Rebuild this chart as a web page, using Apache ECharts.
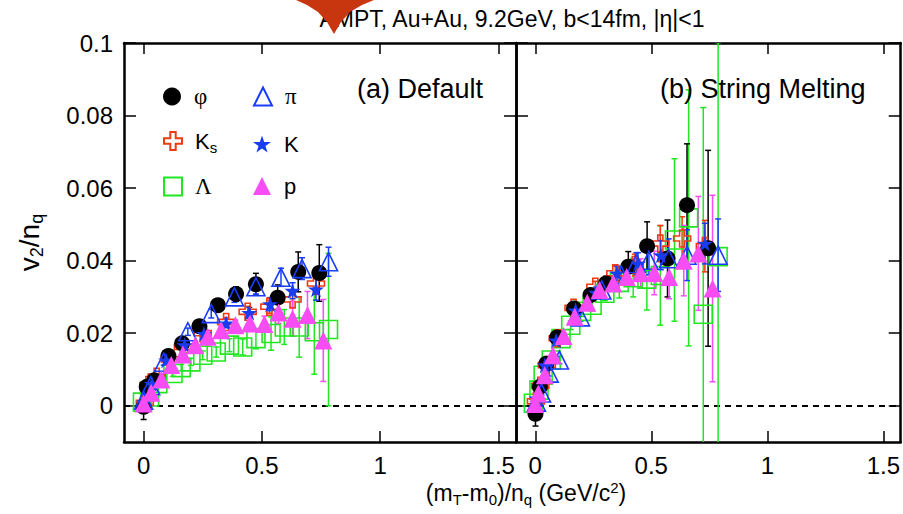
<!DOCTYPE html>
<html><head><meta charset="utf-8">
<script src="https://cdn.jsdelivr.net/npm/echarts@6/dist/echarts.min.js"></script>
<style>html,body{margin:0;padding:0;background:#fff}#c{width:903px;height:514px}</style>
</head><body><div id="c"></div>
<script>
// ---------- tick labels / ranges ----------
const xTicks = [0, 0.5, 1, 1.5];
const yTicks = [0, 0.02, 0.04, 0.06, 0.08, 0.1];
const xRange = [-0.083, 1.575];
const yRange = [-0.01, 0.1];
const panelLabels = ['(a) Default', '(b) String Melting'];
const titleText = 'AMPT, Au+Au, 9.2GeV, b<14fm, |η|<1';

// ---------- data: [ (mT-m0)/nq , v2/nq , error ] ----------
// (a) Default
const phiDefault = [
 [0.000,-0.0003,0.0035],[0.013,0.0052,0.0008],[0.045,0.0070,0.0008],[0.105,0.0137,0.0010],
 [0.163,0.0172,0.0010],[0.236,0.0219,0.0012],[0.314,0.0277,0.0015],[0.391,0.0308,0.0020],
 [0.475,0.0335,0.0030],[0.567,0.0298,0.0035],[0.654,0.0369,0.0055],[0.743,0.0366,0.0078]
];
const piDefault = [
 [0.000,0.0015,0.0005],[0.030,0.0055,0.0006],[0.085,0.0120,0.0008],[0.187,0.0204,0.0010],
 [0.286,0.0254,0.0012],[0.384,0.0300,0.0015],[0.475,0.0328,0.0020],[0.581,0.0354,0.0025],
 [0.670,0.0378,0.0030],[0.782,0.0397,0.0040]
];
const ksDefault = [
 [0.005,0.0008,0.0006],[0.020,0.0057,0.0006],[0.055,0.0080,0.0007],[0.110,0.0128,0.0008],
 [0.166,0.0162,0.0010],[0.250,0.0200,0.0010],[0.349,0.0231,0.0012],[0.440,0.0259,0.0015],
 [0.532,0.0273,0.0018],[0.630,0.0293,0.0022],[0.729,0.0337,0.0030]
];
const kDefault = [
 [0.003,0.0010,0.0005],[0.035,0.0060,0.0006],[0.095,0.0125,0.0008],[0.173,0.0167,0.0010],
 [0.255,0.0198,0.0010],[0.349,0.0227,0.0012],[0.447,0.0256,0.0015],[0.535,0.0280,0.0018],
 [0.630,0.0317,0.0022],[0.729,0.0321,0.0030]
];
const pDefault = [
 [0.000,0.0006,0.0005],[0.032,0.0036,0.0005],[0.075,0.0072,0.0006],[0.117,0.0112,0.0007],
 [0.166,0.0141,0.0008],[0.219,0.0167,0.0009],[0.271,0.0190,0.0010],[0.328,0.0208,0.0012],
 [0.388,0.0222,0.0014],[0.450,0.0227,0.0018],[0.511,0.0225,0.0022],[0.571,0.0257,0.0030],
 [0.630,0.0240,0.0048],[0.693,0.0250,0.0065],[0.760,0.0180,0.0113]
];
const lambdaDefault = [
 [-0.005,0.0010,0.0006],[0.025,0.0024,0.0006],[0.060,0.0061,0.0007],[0.124,0.0089,0.0008],
 [0.159,0.0105,0.0009],[0.200,0.0121,0.0010],[0.250,0.0139,0.0012],[0.307,0.0148,0.0014],
 [0.363,0.0167,0.0018],[0.419,0.0162,0.0022],[0.475,0.0185,0.0028],[0.539,0.0199,0.0046],
 [0.595,0.0217,0.0048],[0.658,0.0217,0.0083],[0.722,0.0204,0.0117],[0.782,0.0210,0.0210]
];
// (b) String Melting
const phiSM = [
 [0.001,-0.0022,0.0034],[0.020,0.0052,0.0010],[0.048,0.0116,0.0010],[0.094,0.0188,0.0010],
 [0.167,0.0268,0.0012],[0.238,0.0305,0.0015],[0.305,0.0337,0.0020],[0.401,0.0383,0.0042],
 [0.482,0.0440,0.0067],[0.570,0.0406,0.0106],[0.654,0.0553,0.0169],[0.745,0.0434,0.0270]
];
const piSM = [
 [0.005,0.0010,0.0005],[0.027,0.0035,0.0006],[0.060,0.0090,0.0008],[0.104,0.0126,0.0010],
 [0.195,0.0245,0.0012],[0.287,0.0319,0.0015],[0.370,0.0360,0.0020],[0.436,0.0392,0.0030],
 [0.490,0.0401,0.0040],[0.575,0.0405,0.0055],[0.654,0.0415,0.0070],[0.788,0.0415,0.0100]
];
const ksSM = [
 [0.003,0.0012,0.0006],[0.022,0.0055,0.0007],[0.050,0.0112,0.0008],[0.097,0.0186,0.0010],
 [0.165,0.0270,0.0012],[0.259,0.0328,0.0015],[0.345,0.0365,0.0020],[0.429,0.0388,0.0030],
 [0.539,0.0447,0.0050],[0.633,0.0461,0.0060],[0.731,0.0440,0.0071]
];
const kSM = [
 [0.005,0.0020,0.0006],[0.041,0.0112,0.0008],[0.090,0.0180,0.0010],[0.174,0.0263,0.0012],
 [0.262,0.0312,0.0015],[0.352,0.0365,0.0020],[0.443,0.0392,0.0030],[0.541,0.0415,0.0040],
 [0.731,0.0447,0.0056]
];
const pSM = [
 [0.000,0.0005,0.0005],[0.013,0.0034,0.0006],[0.041,0.0084,0.0007],[0.076,0.0139,0.0008],
 [0.122,0.0192,0.0009],[0.170,0.0245,0.0010],[0.224,0.0284,0.0012],[0.277,0.0319,0.0014],
 [0.336,0.0337,0.0018],[0.394,0.0355,0.0025],[0.454,0.0365,0.0040],[0.513,0.0366,0.0060],
 [0.577,0.0355,0.0060],[0.640,0.0400,0.0097],[0.703,0.0420,0.0157],[0.764,0.0323,0.0257]
];
const lambdaSM = [
 [-0.008,0.0007,0.0006],[0.016,0.0043,0.0007],[0.034,0.0084,0.0008],[0.069,0.0126,0.0009],
 [0.111,0.0185,0.0010],[0.153,0.0222,0.0012],[0.200,0.0260,0.0014],[0.245,0.0277,0.0016],
 [0.300,0.0310,0.0020],[0.362,0.0340,0.0043],[0.422,0.0353,0.0053],[0.481,0.0349,0.0085],
 [0.539,0.0359,0.0137],[0.600,0.0457,0.0224],[0.661,0.0518,0.0353],[0.724,0.0252,0.0570],
 [0.788,0.0411,0.0590]
];

// ---------- styles ----------
const crossPath = 'path://M7,0 H13 V7 H20 V13 H13 V20 H7 V13 H0 V7 H7 Z';
const starPath = 'path://M50,2 L61.8,37.6 L99,37.6 L68.9,59.5 L80.4,95 L50,73 L19.6,95 L31.1,59.5 L1,37.6 L38.2,37.6 Z';
const species = [
  {name:'Λ',  key:'lambda', symbol:'rect',     size:18, open:true,  color:'#22e622'},
  {name:'Ks', key:'ks',     symbol:crossPath,  size:17, open:true,  color:'#f03a14'},
  {name:'φ',  key:'phi',    symbol:'circle',   size:16, open:false, color:'#000000'},
  {name:'π',  key:'pi',     symbol:'triangle', size:18, open:true,  color:'#1a3cff'},
  {name:'K',  key:'k',      symbol:starPath,   size:16, open:false, color:'#1a3cf0'},
  {name:'p',  key:'p',      symbol:'triangle', size:18, open:false, color:'#f84cf4'}
];
const panels = [
  {lambda:lambdaDefault, ks:ksDefault, phi:phiDefault, pi:piDefault, k:kDefault, p:pDefault},
  {lambda:lambdaSM, ks:ksSM, phi:phiSM, pi:piSM, k:kSM, p:pSM}
];

function errRender(color){
  return function(params, api){
    const x = api.value(0), y = api.value(1), e = api.value(2);
    const t = api.coord([x, y + e]), b = api.coord([x, y - e]);
    const c = 3, st = {stroke: color, lineWidth: 1.5};
    return {type:'group', children:[
      {type:'line', shape:{x1:t[0],y1:t[1],x2:b[0],y2:b[1]}, style:st},
      {type:'line', shape:{x1:t[0]-c,y1:t[1],x2:t[0]+c,y2:t[1]}, style:st},
      {type:'line', shape:{x1:b[0]-c,y1:b[1],x2:b[0]+c,y2:b[1]}, style:st}
    ]};
  };
}

const grids = [
  {left:124, top:43, width:392, height:399},
  {left:516, top:43, width:392, height:399}
];
const xAxes = [], yAxes = [], series = [];
const lineStyle = {color:'#000', width:2.5};
const tickStyle = {color:'#000', width:1.5};
grids.forEach((g, gi) => {
  ['bottom','top'].forEach(pos => xAxes.push({
    gridIndex:gi, type:'value', position:pos, min:xRange[0], max:xRange[1],
    axisLine:{show:true, onZero:false, lineStyle},
    axisTick:{show:true, inside:true, length:11, lineStyle:tickStyle, customValues:xTicks},
    axisLabel:{show:pos==='bottom', customValues:xTicks, fontSize:24, color:'#000',
               fontFamily:'Liberation Sans', margin:11},
    splitLine:{show:false}
  }));
  ['left','right'].forEach(pos => yAxes.push({
    gridIndex:gi, type:'value', position:pos, min:yRange[0], max:yRange[1],
    axisLine:{show:true, onZero:false, lineStyle},
    axisTick:{show:true, inside:true, length:12, lineStyle:tickStyle, customValues:yTicks},
    axisLabel:{show:(gi===0 && pos==='left'), customValues:yTicks, fontSize:24, color:'#000',
               fontFamily:'Liberation Sans', margin:11},
    splitLine:{show:false},
    name:(gi===0 && pos==='left') ? '{i|v}{s|2}{i|/n}{s|q}' : '',
    nameLocation:'middle', nameGap:78,
    nameTextStyle:{color:'#000', fontFamily:'Liberation Sans',
      rich:{i:{fontSize:28, fontFamily:'Liberation Sans', color:'#000'},
            s:{fontSize:18, fontFamily:'Liberation Sans', color:'#000', padding:[15,0,0,0]}}}
  }));
  species.forEach((sp, si) => {
    const d = panels[gi][sp.key];
    series.push({
      type:'custom', name:sp.name + ' error', xAxisIndex:gi*2, yAxisIndex:gi*2,
      clip:true, silent:true, z:2, data:d, encode:{x:0, y:1}, renderItem:errRender(sp.color)
    });
  });
  species.forEach((sp, si) => {
    const d = panels[gi][sp.key];
    const s = {
      type:'scatter', name:sp.name, xAxisIndex:gi*2, yAxisIndex:gi*2, clip:true,
      z:3 + si, symbol:sp.symbol, symbolSize:sp.size, silent:true,
      data:d.map(v => [v[0], v[1]]),
      itemStyle: sp.open ? {color:'rgba(255,255,255,0)', borderColor:sp.color, borderWidth:1.6, opacity:1}
                         : {color:sp.color, borderWidth:0, opacity:1}
    };
    if (si === 0) {
      s.markLine = {silent:true, symbol:'none', label:{show:false}, z:1,
        lineStyle:{color:'#000', width:2, type:[6,5]}, data:[{yAxis:0}], animation:false};
    }
    series.push(s);
  });
});

const legendText = {
  'φ':'{g|φ}', 'π':'{g|π}', 'Λ':'{g|Λ}',
  'Ks':'{n|K}{s|s}', 'K':'{n|K}', 'p':'{n|p}'
};
const legendPos = {
  'φ':[163,85], 'π':[253,85], 'Ks':[163,130], 'K':[253,133], 'Λ':[163,175], 'p':[253,175]
};
const legends = Object.keys(legendPos).map(n => ({
  data:[n], left:legendPos[n][0], top:legendPos[n][1], padding:0,
  itemWidth:18, itemHeight:18, selectedMode:false, orient:'horizontal',
  formatter: name => legendText[name],
  textStyle:{color:'#000', rich:{
    g:{fontFamily:'Liberation Serif', fontSize:23, color:'#000', padding:[0,0,0,8]},
    n:{fontFamily:'Liberation Sans', fontSize:22, color:'#000', padding:[0,0,0,8]},
    s:{fontFamily:'Liberation Sans', fontSize:15, color:'#000', padding:[12,0,0,0]}
  }}
}));

const option = {
  animation:false,
  backgroundColor:'#fff',
  grid:grids, xAxis:xAxes, yAxis:yAxes, series, legend:legends,
  graphic:[
    {type:'text', x:512, y:19, z:90, silent:true,
     style:{text:titleText, align:'center', verticalAlign:'middle',
            fontFamily:'Liberation Sans', fontSize:23, fill:'#000'}},
    {type:'polygon', z:100, silent:true,
     shape:{points:[[296,0],[374,0],[362,5],[350,12],[341,22],[334,34],[327,22],[318,12],[307,5]]},
     style:{fill:'#c8360f'}},
    {type:'text', x:357, y:89, z:90, silent:true,
     style:{text:panelLabels[0], align:'left', verticalAlign:'middle',
            fontFamily:'Liberation Sans', fontSize:27, fill:'#000'}},
    {type:'text', x:660, y:89, z:90, silent:true,
     style:{text:panelLabels[1], align:'left', verticalAlign:'middle',
            fontFamily:'Liberation Sans', fontSize:27, fill:'#000'}},
    {type:'text', x:526, y:493, z:90, silent:true,
     style:{text:'(m{s|T}-m{s|0})/n{s|q} (GeV/c{u|2})', align:'center', verticalAlign:'middle',
            fontFamily:'Liberation Sans', fontSize:23, fill:'#000',
            rich:{s:{fontSize:15, fill:'#000', fontFamily:'Liberation Sans', padding:[13,0,0,0]},
                  u:{fontSize:15, fill:'#000', fontFamily:'Liberation Sans', padding:[0,0,11,0]}}}}
  ]
};
const chart = echarts.init(document.getElementById('c'), null, {renderer:'svg', width:903, height:514});
chart.setOption(option);
</script>
</body></html>
